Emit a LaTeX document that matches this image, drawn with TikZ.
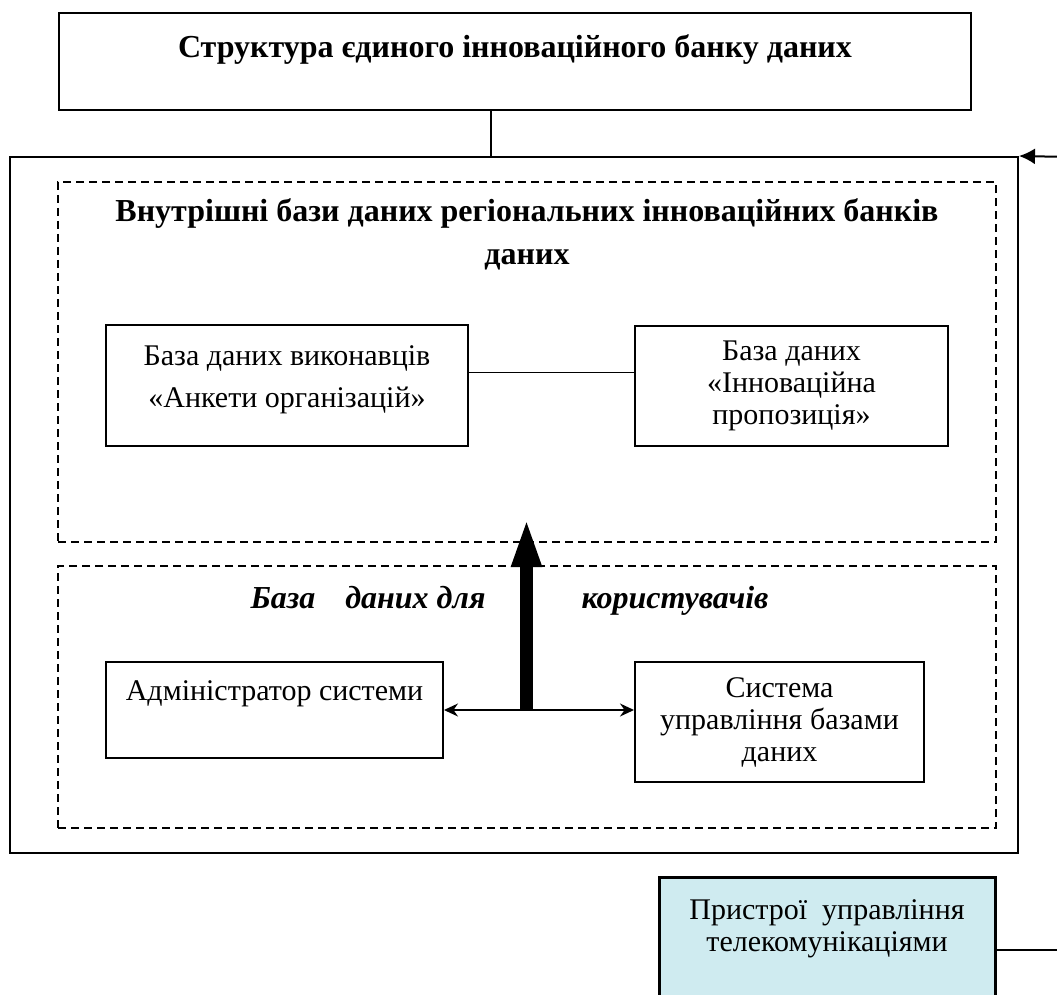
\documentclass[tikz,border=0pt]{standalone}
\usepackage{fontspec}
\setmainfont{Liberation Serif}
\usetikzlibrary{arrows.meta}
\definecolor{teleblue}{RGB}{207,235,240}

\begin{document}
\begin{tikzpicture}[x=1pt, y=-1pt]
    % Define styles
    \tikzset{
        heading/.style={font=\fontsize{32}{43}\selectfont\bfseries, align=center},
        subheading/.style={font=\fontsize{32}{36}\selectfont\bfseries\itshape, anchor=base west},
        box/.style={draw, line width=2pt, align=center, font=\fontsize{30}{32}\selectfont},
        frame/.style={draw, line width=2pt},
        region/.style={draw, line width=1.4pt, dash pattern=on 8pt off 5pt},
        telebox/.style={box, line width=3pt, fill=teleblue},
        link/.style={line width=1.5pt},
        arrow/.style={-{Latex[length=16pt, width=16pt]}, line width=2pt},
        dblarrow/.style={{Stealth[length=14pt, width=13pt]}-{Stealth[length=14pt, width=13pt]}, line width=1.5pt},
        bigarrow/.style={-{Triangle[length=50pt, width=27pt]}, line width=13pt}
    }
    \useasboundingbox (0,0) rectangle (1057,995);
    \clip (0,0) rectangle (1057,995);

    % Title
    \node[box, heading, minimum width=912pt, minimum height=97pt] (title) at (515,61.5)
        {Структура єдиного інноваційного банку даних\\[-12pt]\mbox{}};

    % Whole bank
    \node[frame, minimum width=1008pt, minimum height=696pt] (bank) at (514,505) {};
    \draw[link] ([xshift=-24pt]title.south) -- ([xshift=-24pt]title.south |- bank.north);

    % Internal databases
    \node[region, minimum width=938pt, minimum height=360pt] (internal) at (527,362) {};
    \node[heading] (internalhead) at (527,234)
        {Внутрішні бази даних регіональних інноваційних банків\\даних};
    \node[box, minimum width=362pt, minimum height=121pt] (execs) at (287,385.5)
        {База даних виконавців\\[10pt]«Анкети організацій»\\[-14pt]\mbox{}};
    \node[box, minimum width=313pt, minimum height=120pt] (offers) at (791.5,386)
        {База даних\\«Інноваційна\\пропозиція»};
    \draw[link] ([yshift=13pt]execs.east) -- ([yshift=13pt]execs.east -| offers.west);

    % User databases
    \node[region, minimum width=938pt, minimum height=262pt] (users) at (527,697) {};
    \node[subheading] (usershead) at (247,608)
        {База\hspace{30pt}даних для\hspace{96pt}користувачів};
    \node[box, minimum width=337pt, minimum height=96pt] (admin) at (274.5,710)
        {Адміністратор системи\\[6pt]\mbox{}};
    \node[box, minimum width=289pt, minimum height=120pt] (dbms) at (779.5,722)
        {Система\\управління базами\\даних};
    \draw[dblarrow] (admin.east) -- (admin.east -| dbms.west);
    \coordinate (hub) at (526.5,710);
    \coordinate (hubtop) at (526.5,517);
    \draw[bigarrow] (hub) -- (hubtop);

    % Telecommunication devices
    \node[telebox, minimum width=336pt, minimum height=135pt] (tele) at (827,944.5)
        {Пристрої\ \ управління\\телекомунікаціями\\[5pt]\mbox{}};
    \coordinate (teleout) at (1070,950);
    \draw[link, line width=2.6pt] ([yshift=-5.5pt]tele.east) -- (teleout);
    \coordinate (feed) at (1070,157);
    \draw[arrow] (feed) -- (bank.north east);
\end{tikzpicture}
\end{document}
